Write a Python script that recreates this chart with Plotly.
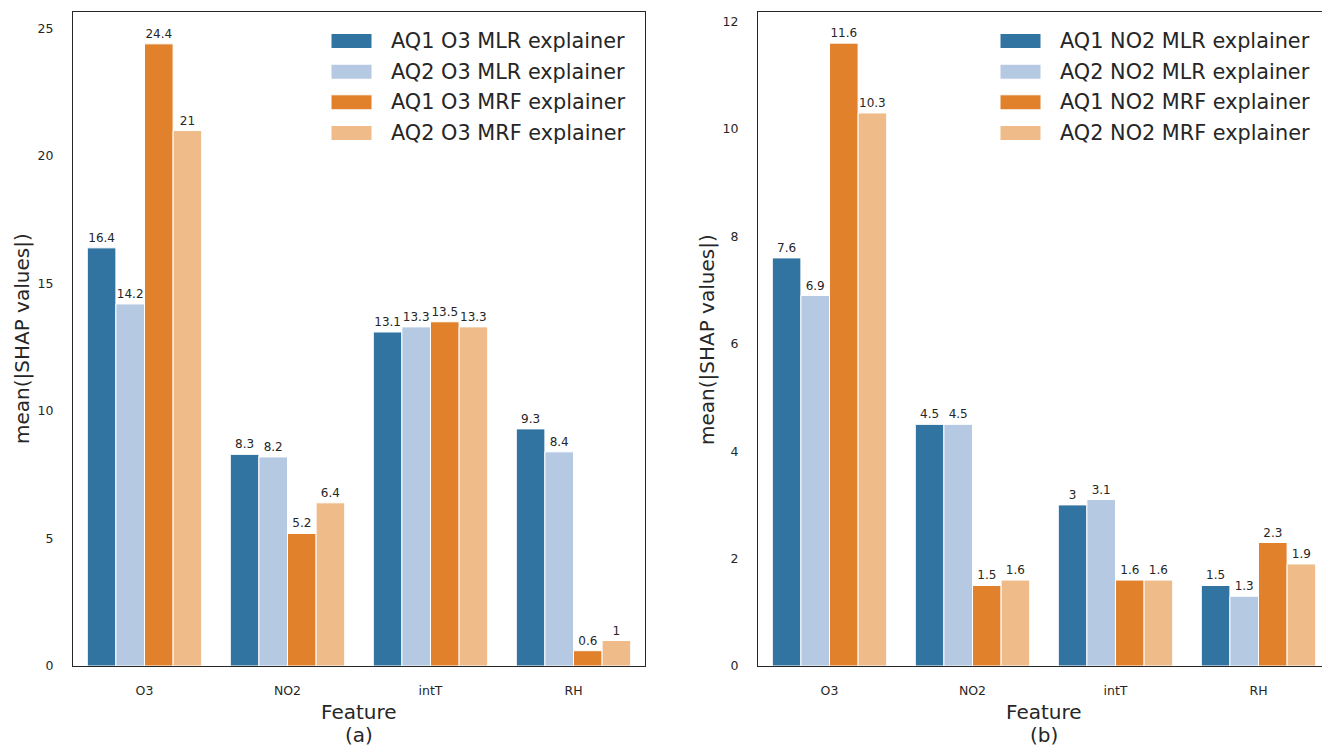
import plotly.graph_objects as go
from plotly.subplots import make_subplots

features = ["O3", "NO2", "intT", "RH"]

o3_series_names = ["AQ1 O3 MLR explainer", "AQ2 O3 MLR explainer",
                   "AQ1 O3 MRF explainer", "AQ2 O3 MRF explainer"]
o3_aq1_mlr = [16.4, 8.3, 13.1, 9.3]
o3_aq2_mlr = [14.2, 8.2, 13.3, 8.4]
o3_aq1_mrf = [24.4, 5.2, 13.5, 0.6]
o3_aq2_mrf = [21, 6.4, 13.3, 1]

no2_series_names = ["AQ1 NO2 MLR explainer", "AQ2 NO2 MLR explainer",
                    "AQ1 NO2 MRF explainer", "AQ2 NO2 MRF explainer"]
no2_aq1_mlr = [7.6, 4.5, 3, 1.5]
no2_aq2_mlr = [6.9, 4.5, 3.1, 1.3]
no2_aq1_mrf = [11.6, 1.5, 1.6, 2.3]
no2_aq2_mrf = [10.3, 1.6, 1.6, 1.9]

x_title = "Feature"
panel_tags = ["(a)", "(b)"]
y_title = "mean(|SHAP values|)"

colors = ["#3274a1", "#b5c9e3", "#e1812c", "#efbb89"]
TXT = "#262626"
FONT = "DejaVu Sans"

W, H = 1322, 747
ML, MR, MT, MB = 73, 0, 12, 81
PW = W - ML - MR
PH = H - MT - MB


def px(x):
    return (x - ML) / PW


def py(y):
    return (H - MB - y) / PH


fig = make_subplots(rows=1, cols=2)
fig.update_layout(
    xaxis=dict(domain=[0, px(645)]),
    xaxis2=dict(domain=[px(758), 1]),
)

panels = [
    (1, o3_series_names, [o3_aq1_mlr, o3_aq2_mlr, o3_aq1_mrf, o3_aq2_mrf]),
    (2, no2_series_names, [no2_aq1_mlr, no2_aq2_mlr, no2_aq1_mrf, no2_aq2_mrf]),
]

for col, names, series in panels:
    for name, vals, c in zip(names, series, colors):
        fig.add_trace(go.Bar(
            x=features, y=vals, name=name,
            marker=dict(color=c, line=dict(color="white", width=1)),
            text=[f"{v:g}" for v in vals],
            textposition="outside",
            textfont=dict(size=12, color=TXT, family=FONT),
            cliponaxis=False,
            showlegend=False,
        ), row=1, col=col)

# manual legends (wide swatches like the reference)
legend_rows = [41, 71.7, 102.3, 133]
for (sw0, sw1, tx), names in [((331, 372, 389), o3_series_names),
                              ((1000, 1041, 1058), no2_series_names)]:
    for yy, name, c in zip(legend_rows, names, colors):
        fig.add_shape(type="rect", xref="paper", yref="paper",
                      x0=px(sw0), x1=px(sw1), y0=py(yy + 7.5), y1=py(yy - 7.5),
                      fillcolor=c, line=dict(color="white", width=1))
        fig.add_annotation(xref="paper", yref="paper", x=px(tx), y=py(yy),
                           xanchor="left", yanchor="middle", showarrow=False,
                           text=name, font=dict(size=20.8, color=TXT, family=FONT))

# axis titles
title_font = dict(size=20, color=TXT, family=FONT)
for xc, tag in zip([359, 1044], panel_tags):
    fig.add_annotation(xref="paper", yref="paper", x=px(xc), y=py(712),
                       xanchor="center", yanchor="middle", showarrow=False,
                       text=x_title, font=title_font)
    fig.add_annotation(xref="paper", yref="paper", x=px(xc), y=py(735),
                       xanchor="center", yanchor="middle", showarrow=False,
                       text=tag, font=title_font)
for xc in [22, 707]:
    fig.add_annotation(xref="paper", yref="paper", x=px(xc), y=py(339),
                       xanchor="center", yanchor="middle", showarrow=False,
                       textangle=-90, text=y_title, font=title_font)

axis_common = dict(showline=True, linecolor=TXT, linewidth=1.25,
                   showgrid=False, zeroline=False, ticks="", automargin=False,
                   tickfont=dict(size=12.5, color=TXT, family=FONT))

fig.update_xaxes(**axis_common, ticklabelstandoff=13)
fig.update_yaxes(**axis_common, ticklabelstandoff=16)

fig.update_xaxes(range=[-0.5, 3.5], mirror=True, row=1, col=1)
fig.update_xaxes(range=[-0.5, -0.5 + (W - 758) / 143.0], mirror=True, row=1, col=2)
fig.update_yaxes(range=[0, 25.65], tickvals=[0, 5, 10, 15, 20, 25], mirror=True,
                 row=1, col=1)
fig.update_yaxes(range=[0, 12.18], tickvals=[0, 2, 4, 6, 8, 10, 12], mirror=False,
                 row=1, col=2)

fig.update_layout(
    width=W, height=H,
    margin=dict(l=ML, r=MR, t=MT, b=MB, autoexpand=False),
    barmode="group", bargap=0.2, bargroupgap=0,
    plot_bgcolor="white", paper_bgcolor="white",
    font=dict(family=FONT, color=TXT),
    showlegend=False,
)

fig.write_html("out.html",
               config={"displayModeBar": False},
               post_script="document.body.style.margin='0';"
                           "document.body.style.overflow='hidden';")
